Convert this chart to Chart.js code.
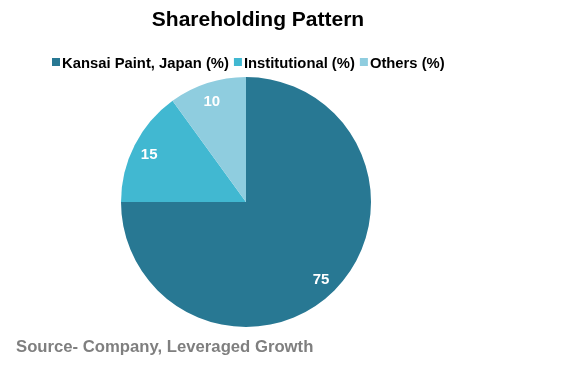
<!DOCTYPE html>
<html><head><meta charset="utf-8">
<script src="https://cdn.jsdelivr.net/npm/chart.js@4"></script>
<style>html,body{margin:0;padding:0;background:#fff}#wrap{width:576px;height:368px;position:relative}</style>
</head><body><div id="wrap"><canvas id="c" width="576" height="368"></canvas></div>
<script>
const categories = ["Kansai Paint, Japan (%)", "Institutional (%)", "Others (%)"];
const values = [75, 15, 10];
const colors = ["#287893", "#41b8d1", "#8fcddf"];
const titleText = "Shareholding Pattern";
const sourceText = "Source- Company, Leveraged Growth";
const FONT = '"Liberation Sans", Arial, sans-serif';

const labelPlugin = {
  id: 'labels',
  afterDatasetsDraw(chart) {
    const ctx = chart.ctx;
    const meta = chart.getDatasetMeta(0);
    ctx.save();
    ctx.fillStyle = '#ffffff';
    ctx.font = 'bold 15px ' + FONT;
    ctx.textAlign = 'center';
    ctx.textBaseline = 'middle';
    meta.data.forEach((arc, i) => {
      const p = arc.getProps(['x','y','startAngle','endAngle','outerRadius']);
      const a = (p.startAngle + p.endAngle) / 2;
      const r = p.outerRadius * 0.86;
      ctx.fillText(String(values[i]), p.x + Math.cos(a) * r - 1, p.y + Math.sin(a) * r + 2);
    });
    ctx.restore();
  },
  afterDraw(chart) {
    const ctx = chart.ctx;
    ctx.save();
    // title
    ctx.fillStyle = '#000000';
    ctx.font = 'bold 21px ' + FONT;
    ctx.textAlign = 'center';
    ctx.textBaseline = 'middle';
    ctx.fillText(titleText, 258, 20);
    // legend
    ctx.font = 'bold 14.8px ' + FONT;
    ctx.textAlign = 'left';
    let x = 52;
    const y = 62;
    categories.forEach((c, i) => {
      ctx.fillStyle = colors[i];
      ctx.fillRect(x, y - 4, 8, 8);
      x += 10;
      ctx.fillStyle = '#000000';
      ctx.fillText(c, x, y + 1.5);
      x += ctx.measureText(c).width + 5;
    });
    // source
    ctx.fillStyle = '#7f7f7f';
    ctx.font = 'bold 16.7px ' + FONT;
    ctx.fillText(sourceText, 16, 347);
    ctx.restore();
  }
};

new Chart(document.getElementById('c'), {
  type: 'pie',
  data: {
    labels: categories,
    datasets: [{ data: values, backgroundColor: colors, borderWidth: 0 }]
  },
  options: {
    responsive: false,
    animation: false,
    layout: { padding: { top: 77, bottom: 41, left: 0, right: 84 } },
    plugins: {
      title: { display: false },
      legend: { display: false },
      tooltip: { enabled: false }
    }
  },
  plugins: [labelPlugin]
});
</script></body></html>
